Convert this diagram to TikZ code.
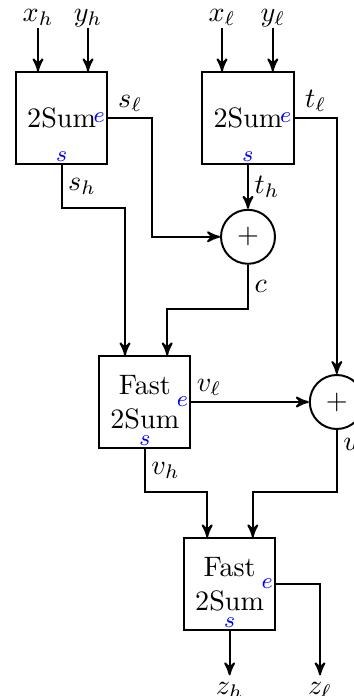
\documentclass[tikz,border=0pt]{standalone}
\usetikzlibrary{positioning}
\usetikzlibrary{arrows}

\tikzset{
  twosum/.style={draw,line width=0.7pt,minimum size=1.14cm,align=center,
    label={[elab]east:$e$},label={[slab]south:$s$}},
  elab/.style={anchor=east,text=blue,font=\footnotesize,inner sep=1pt},
  slab/.style={anchor=south,text=blue,font=\footnotesize,inner sep=1pt},
  adder/.style={circle,draw,line width=0.7pt,minimum size=0.675cm},
  io/.style={inner sep=0pt,text height=1.5ex,text depth=0.5ex},
  wl/.style={inner sep=2pt},
  wire/.style={line width=0.7pt,->,>=stealth'}
}

\begin{document}
\begin{tikzpicture}[every node/.style={inner sep=0pt},x=1cm,y=1cm]
\useasboundingbox (0,0) rectangle (4.4125,-8.7);
% blocks
\node[twosum] (b1) at (0.77,-1.475) {2Sum};
\node[twosum] (b2) at (3.10,-1.475) {2Sum};
\node[adder] (cc) at (3.10,-2.96) {$+$};
\node[twosum] (b3) at (1.81,-5.025) {Fast\\2Sum};
\node[adder] (cu) at (4.21,-5.025) {$+$};
\node[twosum] (b4) at (2.87,-7.30) {Fast\\2Sum};
% inputs and outputs
\node[io] (xh) at (0.475,-0.19) {$x_h$};
\node[io] (yh) at (1.10,-0.19) {$y_h$};
\node[io] (xl) at (2.775,-0.19) {$x_\ell$};
\node[io] (yl) at (3.41,-0.19) {$y_\ell$};
\node[io] (zh) at (2.87,-8.6) {$z_h$};
\node[io] (zl) at (4.0,-8.6) {$z_\ell$};
% bends
\coordinate (k1) at (1.90,-2.96);
\coordinate (k2) at (1.5625,-2.60);
\coordinate (k3) at (2.09,-3.86);
\coordinate (k4) at (2.59,-6.15);
\coordinate (k5) at (3.16,-6.15);
% wires
\draw[wire] (xh.south) -- (xh.south |- b1.north);
\draw[wire] (yh.south) -- (yh.south |- b1.north);
\draw[wire] (xl.south) -- (xl.south |- b2.north);
\draw[wire] (yl.south) -- (yl.south |- b2.north);
\draw[wire] (b1.east) -| (k1) node[pos=.25,above,wl] (lsl) {$s_\ell$} -- (cc);
\draw[wire] (b1.south) |- (k2) node[pos=.25,right,wl] (lsh) {$s_h$} -- (k2 |- b3.north);
\draw[wire] (b2.south) -- (cc) node[midway,right,wl] (lth) {$t_h$};
\draw[wire] (b2.east) -| (cu) node[pos=.25,above,wl] (ltl) {$t_\ell$};
\draw[wire] (cc.south) |- (k3) node[pos=.25,right,wl] (lc) {$c$} -- (k3 |- b3.north);
\draw[wire] (b3.east) -- (cu) node[pos=.15,above,wl] (lvl) {$v_\ell$};
\draw[wire] (b3.south) |- (k4) node[pos=.25,right,wl] (lvh) {$v_h$} -- (k4 |- b4.north);
\draw[wire] (cu.south) |- (k5) node[pos=.12,right,wl] (lu) {$u$} -- (k5 |- b4.north);
\draw[wire] (b4.south) -- (zh);
\draw[wire] (b4.east) -| (zl);
\end{tikzpicture}
\end{document}
